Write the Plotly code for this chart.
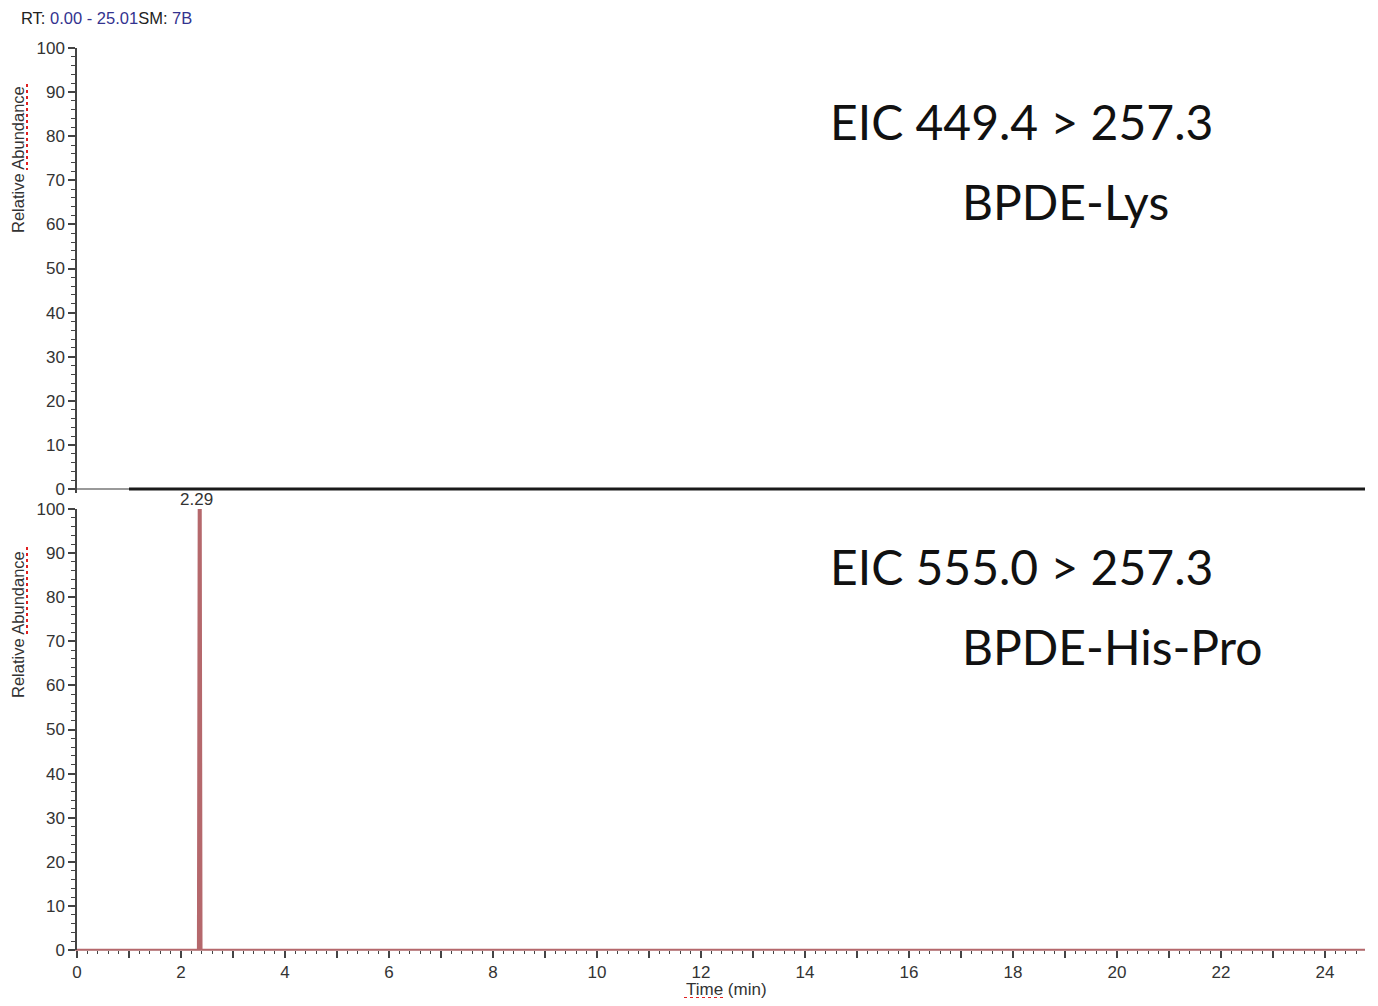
import plotly.graph_objects as go

# page body has an 8px margin, so the figure is 16px smaller and coordinates shift by 8
OFF = 8
W, H = 1378 - 2 * OFF, 1006 - 2 * OFF

# ---------------- data ----------------
top_thin_x = [0.0, 1.0]
top_thin_y = [0.0, 0.0]
top_thick_x = [1.0, 24.78]
top_thick_y = [0.0, 0.0]

bot_x = [0.0, 2.33, 2.345, 2.375, 2.39, 24.78]
bot_y = [0.0, 0.0, 100.0, 100.0, 0.0, 0.0]
peak_label_x = 2.29
peak_label = "2.29"

x_major_vals = list(range(0, 25))
x_major_text = [str(v) if v % 2 == 0 else "" for v in x_major_vals]
y_vals = [0, 10, 20, 30, 40, 50, 60, 70, 80, 90, 100]
y_text = [str(v) for v in y_vals]

# ---------------- layout helpers ----------------
def px(x):
    return (x - OFF) / W

def py(y):
    return 1 - (y - OFF) / H

X0, X1 = 77, 1365
XR = [0, (X1 - X0) / 52.0]

# top panel: small negative padding so the thick baseline trace is not clipped
TOP_PAD = 0.8
top_bottom_px = 489 + TOP_PAD * (489 - 48) / 100.0

FONT = "Liberation Sans, Arial"
tickfont = dict(family=FONT, size=17, color="#333333")
axcol = "#444444"

fig = go.Figure()
fig.add_trace(go.Scatter(x=top_thin_x, y=top_thin_y, mode="lines",
                         line=dict(color="#777777", width=1.5), cliponaxis=False,
                         xaxis="x", yaxis="y", hoverinfo="skip"))
fig.add_trace(go.Scatter(x=top_thick_x, y=top_thick_y, mode="lines",
                         line=dict(color="#1a1a1a", width=3), cliponaxis=False,
                         xaxis="x", yaxis="y", hoverinfo="skip"))
fig.add_trace(go.Scatter(x=bot_x, y=bot_y, mode="lines",
                         line=dict(color="#b5686c", width=2.5), cliponaxis=False,
                         fill="toself", fillcolor="#b5686c",
                         xaxis="x2", yaxis="y2", hoverinfo="skip"))

yax_common = dict(tickmode="array", tickvals=y_vals, ticktext=y_text,
                  ticks="outside", ticklen=7, tickwidth=1.5, tickcolor=axcol,
                  showline=True, linecolor=axcol, linewidth=1.5,
                  showgrid=False, zeroline=False, tickfont=tickfont, automargin=False,
                  minor=dict(dtick=2, ticks="outside", ticklen=4, tickcolor=axcol,
                             tickwidth=1, showgrid=False))

fig.update_layout(
    width=W, height=H,
    margin=dict(l=0, r=0, t=0, b=0, autoexpand=False),
    paper_bgcolor="white", plot_bgcolor="white",
    showlegend=False,
    xaxis=dict(domain=[px(X0), px(X1)], range=XR, anchor="y", automargin=False,
               showticklabels=False, ticks="", showline=False,
               showgrid=False, zeroline=False),
    yaxis=dict(domain=[py(top_bottom_px), py(48)], range=[-TOP_PAD, 100], anchor="x", **yax_common),
    xaxis2=dict(domain=[px(X0), px(X1)], range=XR, anchor="y2", automargin=False,
                tickmode="array", tickvals=x_major_vals, ticktext=x_major_text,
                ticks="outside", ticklen=7, tickwidth=1.5, tickcolor=axcol,
                showline=True, linecolor="#c08a8c", linewidth=1,
                showgrid=False, zeroline=False,
                tickfont=dict(family=FONT, size=17, color="#333333"),
                minor=dict(dtick=0.2, ticks="outside", ticklen=3, tickcolor=axcol,
                           tickwidth=1, showgrid=False)),
    yaxis2=dict(domain=[py(950), py(509)], range=[0, 100], anchor="x2", **yax_common),
)

ann = []
# header
ann.append(dict(xref="paper", yref="paper", x=px(19), y=py(18), xanchor="left", yanchor="middle",
                showarrow=False,
                text="RT: <span style='color:#33338f'>0.00 - 25.01</span>SM: <span style='color:#33338f'>7B</span>",
                font=dict(family=FONT, size=16.5, color="#222222")))
# y titles
for yc in (160, 625):
    ann.append(dict(xref="paper", yref="paper", x=px(18), y=py(yc), xanchor="center", yanchor="middle",
                    showarrow=False, textangle=-90, text="Relative Abundance",
                    font=dict(family=FONT, size=16.5, color="#333333")))
# x title
ann.append(dict(xref="paper", yref="paper", x=px(726), y=py(989), xanchor="center", yanchor="middle",
                showarrow=False, text="Time (min)",
                font=dict(family=FONT, size=17, color="#333333")))
# peak label
ann.append(dict(xref="x2", yref="y2", x=peak_label_x, y=100, xanchor="center", yanchor="bottom",
                showarrow=False, text=peak_label, yshift=-2,
                font=dict(family=FONT, size=17, color="#333333")))
# big labels
big = dict(family="Lato", size=48, color="#111111")
ann.append(dict(xref="paper", yref="paper", x=px(828), y=py(122), xanchor="left", yanchor="middle",
                showarrow=False, text="EIC 449.4 &gt; 257.3", font=big))
ann.append(dict(xref="paper", yref="paper", x=px(960), y=py(201), xanchor="left", yanchor="middle",
                showarrow=False, text="BPDE-Lys", font=big))
ann.append(dict(xref="paper", yref="paper", x=px(828), y=py(566), xanchor="left", yanchor="middle",
                showarrow=False, text="EIC 555.0 &gt; 257.3", font=big))
ann.append(dict(xref="paper", yref="paper", x=px(960), y=py(646), xanchor="left", yanchor="middle",
                showarrow=False, text="BPDE-His-Pro", font=big))
fig.update_layout(annotations=ann)

# spell-check squiggles
shapes = []
for (y0, y1) in ((84, 170), (547, 637)):
    shapes.append(dict(type="line", xref="paper", yref="paper",
                       x0=px(27), x1=px(27), y0=py(y0), y1=py(y1),
                       line=dict(color="#e02020", width=2, dash="dot")))
shapes.append(dict(type="line", xref="paper", yref="paper",
                   x0=px(684), x1=px(724), y0=py(998), y1=py(998),
                   line=dict(color="#e02020", width=2, dash="dot")))
fig.update_layout(shapes=shapes)

fig.write_html("out.html")
